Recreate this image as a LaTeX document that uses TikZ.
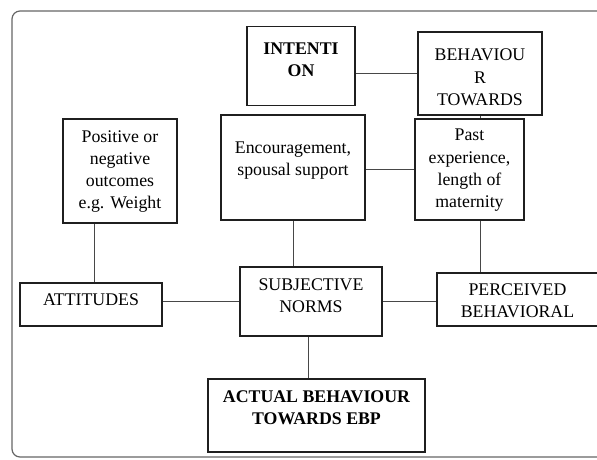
\documentclass[tikz,border=0pt]{standalone}
\usepackage{fontspec}
\setmainfont{Liberation Serif}
\begin{document}
\begin{tikzpicture}[x=1pt,y=-1pt,
    box/.style={draw=black!88,line width=1.5pt,inner sep=0pt},
    lbl/.style={align=center,inner sep=0pt,font=\fontsize{17.8}{22.3}\selectfont},
    head/.style={lbl,font=\fontsize{17.8}{22.3}\selectfont\bfseries},
    link/.style={draw=black!72,line width=1pt}]
    \useasboundingbox (0,0) rectangle (597,459);
    \clip (0,0) rectangle (597,459);
    % marco exterior, cortado por el borde derecho
    \draw[black!60,line width=1.2pt,rounded corners=8pt] (12,11) rectangle (640,457);
    \node[box,minimum width=108pt,minimum height=79pt] (intention) at (301,66) {};
    \node[box,minimum width=124pt,minimum height=83pt] (behaviour) at (480,73.5) {};
    \node[box,minimum width=114pt,minimum height=104pt] (outcomes) at (120,171) {};
    \node[box,minimum width=144pt,minimum height=105pt] (support) at (293,167.5) {};
    \node[box,minimum width=109pt,minimum height=101pt] (past) at (469.5,169.5) {};
    \node[box,minimum width=142pt,minimum height=43pt] (attitudes) at (91,304.5) {};
    \node[box,minimum width=142pt,minimum height=69pt] (norms) at (311,301.5) {};
    \node[box,minimum width=161pt,minimum height=53pt] (perceived) at (517.5,299.5) {};
    \node[box,minimum width=217pt,minimum height=73pt] (actual) at (316.5,415.5) {};
    % textos, algo desplazados dentro de cada caja
    \node[head] (intentionT) at ([yshift=6pt]intention.center) {INTENTI\\ON};
    \node[lbl] (behaviourT) at ([yshift=-4pt]behaviour.center) {BEHAVIOU\\R\\TOWARDS};
    \node[lbl] (outcomesT) at ([yshift=-0.5pt]outcomes.center) {Positive or\\negative\\outcomes\\e.g. Weight};
    \node[lbl] (supportT) at ([yshift=7pt]support.center) {Encouragement,\\spousal support};
    \node[lbl] (pastT) at ([yshift=-1pt]past.center) {Past\\experience,\\length of\\maternity};
    \node[lbl] (attitudesT) at ([yshift=5pt]attitudes.center) {ATTITUDES};
    \node[lbl] (normsT) at ([yshift=6pt]norms.center) {SUBJECTIVE\\NORMS};
    \node[lbl] (perceivedT) at ([yshift=-1pt]perceived.center) {PERCEIVED\\BEHAVIORAL};
    \node[head] (actualT) at ([yshift=7.5pt]actual.center) {ACTUAL BEHAVIOUR\\TOWARDS EBP};
    % enlaces
    \draw[link] (behaviour.west) -- (behaviour.west -| intention.east);
    \draw[link] (behaviour.south) -- (behaviour.south |- past.north);
    \draw[link] (past.west) -- (past.west -| support.east);
    \draw[link] ([xshift=3pt]attitudes.north) -- ([xshift=3pt]attitudes.north |- outcomes.south);
    \draw[link] (support.south) -- (support.south |- norms.north);
    \draw[link] (past.south -| behaviour.south) -- (perceived.north -| behaviour.south);
    \draw[link] (norms.west) -- (norms.west -| attitudes.east);
    \draw[link] (norms.east) -- (norms.east -| perceived.west);
    \draw[link] ([xshift=-2.5pt]norms.south) -- ([xshift=-2.5pt]norms.south |- actual.north);
  \end{tikzpicture}
\end{document}
